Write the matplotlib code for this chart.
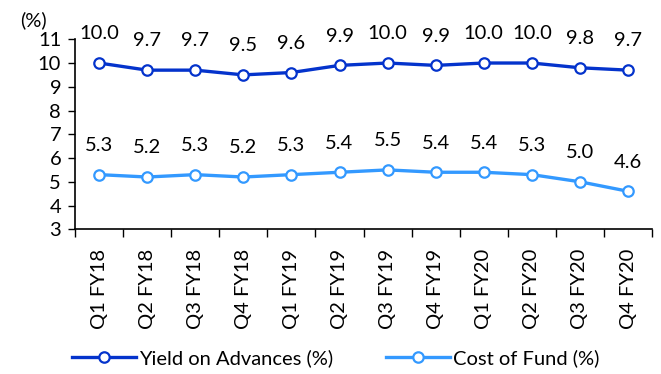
import numpy as np
import matplotlib.pyplot as plt

# === DATA ===
quarters = ['Q1 FY18', 'Q2 FY18', 'Q3 FY18', 'Q4 FY18', 'Q1 FY19', 'Q2 FY19',
            'Q3 FY19', 'Q4 FY19', 'Q1 FY20', 'Q2 FY20', 'Q3 FY20', 'Q4 FY20']
yield_adv = [10.0, 9.7, 9.7, 9.5, 9.6, 9.9, 10.0, 9.9, 10.0, 10.0, 9.8, 9.7]
cost_fund = [5.3, 5.2, 5.3, 5.2, 5.3, 5.4, 5.5, 5.4, 5.4, 5.3, 5.0, 4.6]

plt.rcParams['font.family'] = ['Lato', 'DejaVu Sans']
FS = 14.5

fig = plt.figure(figsize=(6.61, 3.74), dpi=100)
ax = fig.add_axes([0.1135, 0.387, 0.873, 0.508])

x = np.arange(len(quarters))
series = [(yield_adv, '#0433CC', 'Yield on Advances (%)'),
          (cost_fund, '#3399FF', 'Cost of Fund (%)')]
for vals, col, name in series:
    ax.plot(x, vals, color=col, lw=2.4, marker='o', ms=7.5, mfc='white',
            mec=col, mew=1.6, label=name, clip_on=False)
    for xi, v in zip(x, vals):
        ax.annotate(f'{v:.1f}', (xi, v), xytext=(0, 21), textcoords='offset points',
                    ha='center', va='center', fontsize=FS, color='black')

ax.set_xlim(-0.5, len(quarters) - 0.5)
ax.set_ylim(3, 11)
ax.set_yticks(range(3, 12))
ax.tick_params(axis='y', labelsize=FS, length=5, width=1, direction='out', pad=5)

# category labels between boundary ticks
ax.set_xticks(x)
ax.set_xticklabels(quarters, rotation=90, fontsize=FS)
ax.tick_params(axis='x', which='major', length=0, pad=14)
ax.set_xticks(np.arange(-0.5, len(quarters)), minor=True)
ax.tick_params(axis='x', which='minor', length=6, width=1, direction='out')

for s in ['top', 'right']:
    ax.spines[s].set_visible(False)
ax.spines['left'].set_linewidth(1.2)
ax.spines['bottom'].set_linewidth(1.2)

fig.text(0.03, 0.947, '(%)', fontsize=FS, va='center', ha='left')

ax.legend(loc='center', bbox_to_anchor=(0.452, -0.677), ncol=2, frameon=False,
          fontsize=FS, handlelength=3.2, handletextpad=0.15, columnspacing=2.6)

fig.savefig('out.png', dpi=100)
